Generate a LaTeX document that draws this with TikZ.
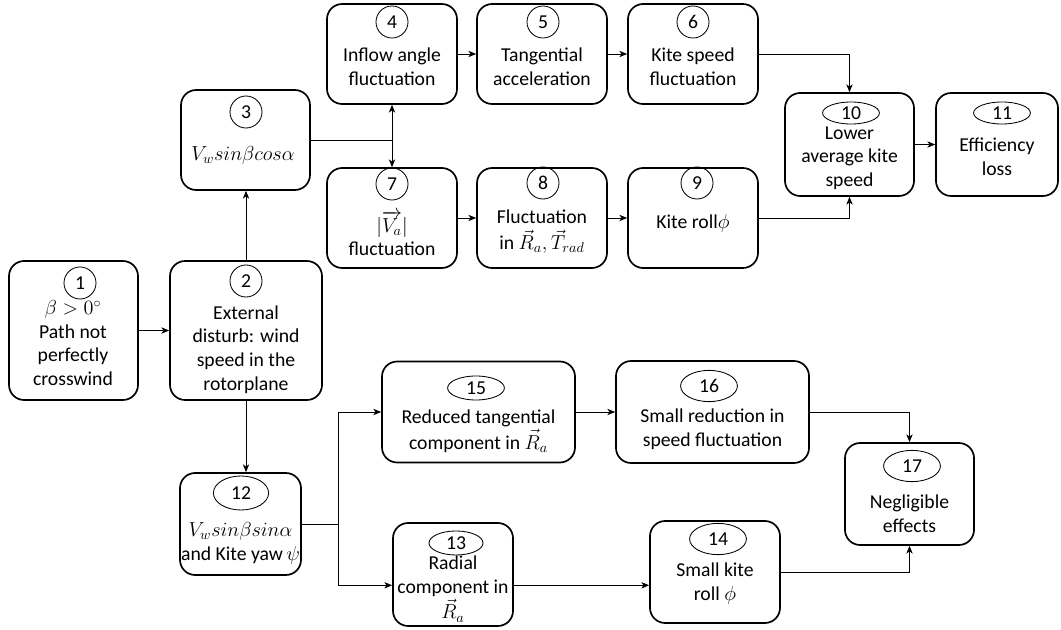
\documentclass[tikz,border=0pt]{standalone}
\usepackage{amsmath}
\usepackage{fontspec}
\setmainfont{Carlito}
\usetikzlibrary{arrows.meta,shapes.geometric}

\tikzset{
  box/.style={draw, line width=1.2pt, rounded corners=0.38cm, minimum width=3.25cm, minimum height=2.5cm},
  txt/.style={align=center, inner sep=0pt, font=\fontsize{14}{16.8}\selectfont},
  num/.style={draw, circle, line width=0.6pt, minimum size=0.8cm, inner sep=0pt, font=\fontsize{14}{16.8}\selectfont},
  numo/.style={draw, ellipse, line width=0.6pt, minimum width=1.42cm, minimum height=0.78cm, inner sep=0pt, font=\fontsize{14}{16.8}\selectfont},
  arr/.style={-{Stealth[length=5.5pt,width=4.5pt,inset=1.5pt]}, line width=0.6pt},
  lin/.style={line width=0.6pt}
}

\begin{document}
\begin{tikzpicture}[x=0.025cm,y=-0.025cm]
	\useasboundingbox (0,0) rectangle (1061,630);

	\node[box, minimum width=3.225cm, minimum height=3.475cm] (b1) at (73.5,330.5) {};
	\node[num] (n1) at (80,283) {1};
	\node[txt] (t1) at (73,343) {$\beta > 0^\circ$\\Path not\\perfectly\\crosswind};

	\node[box, minimum width=3.8cm, minimum height=3.475cm] (b2) at (246,330.5) {};
	\node[num] (n2) at (246,281) {2};
	\node[txt] (t2) at (246,349.5) {External\\disturb: wind\\speed in the\\rotorplane};

	\node[box, minimum width=3.225cm] (b3) at (245.5,140) {};
	\node[num] (n3) at (246,112) {3};
	\node[txt] (t3) at (243,155) {$V_w sin\beta cos\alpha$};

	\node[box] (b4) at (392,54) {};
	\node[num] (n4) at (392,22) {4};
	\node[txt] (t4) at (392,67) {Inflow angle\\fluctuation};

	\node[box] (b5) at (542,54) {};
	\node[num] (n5) at (543,22) {5};
	\node[txt] (t5) at (542,67) {Tangential\\acceleration};

	\node[box] (b6) at (693,54) {};
	\node[num] (n6) at (693,22) {6};
	\node[txt] (t6) at (693,67) {Kite speed\\fluctuation};

	\node[box] (b7) at (392,218) {};
	\node[num] (n7) at (392,184) {7};
	\node[txt] (t7) at (392,233.5) {$|\overrightarrow{V_a}|$\\fluctuation};

	\node[box] (b8) at (542,218) {};
	\node[num] (n8) at (543,183) {8};
	\node[txt] (t8) at (542,231.5) {Fluctuation\\[1.5pt]in $\vec{R}_a, \vec{T}_{rad}$};

	\node[box] (b9) at (693,218) {};
	\node[num] (n9) at (697,183) {9};
	\node[txt] (t9) at (693,223) {Kite roll$\phi$};

	\node[box, minimum width=3.225cm, minimum height=2.575cm] (b10) at (849.5,144.5) {};
	\node[numo, minimum height=0.55cm] (n10) at (851,113) {10};
	\node[txt] (t10) at (849.5,158) {Lower\\average kite\\speed};

	\node[box, minimum width=3.05cm, minimum height=2.575cm] (b11) at (997,144.5) {};
	\node[numo, minimum height=0.55cm] (n11) at (1002,113) {11};
	\node[txt] (t11) at (997,157) {Efficiency\\loss};

	\node[box, minimum width=3.025cm, minimum height=2.55cm] (b12) at (240.5,524) {};
	\node[numo, minimum width=1.38cm, minimum height=0.85cm] (n12) at (241,493) {12};
	\node[txt] (t12) at (240.5,543.5) {$V_w sin\beta sin\alpha$\\and Kite yaw\,$\psi$};

	\node[box, minimum width=3cm, minimum height=2.575cm] (b13) at (453,574.5) {};
	\node[numo, minimum width=1.35cm, minimum height=0.6cm] (n13) at (456,543) {13};
	\node[txt] (t13) at (453,589) {Radial\\component in\\[1.5pt]$\vec{R}_a$};

	\node[box, minimum height=2.55cm] (b14) at (715,572) {};
	\node[numo] (n14) at (718,539) {14};
	\node[txt] (t14) at (715,583.5) {Small kite\\roll $\phi$};

	\node[box, minimum width=4.825cm, minimum height=2.525cm] (b15) at (478.5,412) {};
	\node[numo, minimum height=0.6cm] (n15) at (476,388) {15};
	\node[txt] (t15) at (478.5,431) {Reduced tangential\\[1.5pt]component in $\vec{R}_a$};

	\node[box, minimum width=4.825cm, minimum height=2.55cm] (b16) at (712.5,412) {};
	\node[numo] (n16) at (709,386) {16};
	\node[txt] (t16) at (712.5,429.5) {Small reduction in\\speed fluctuation};

	\node[box, minimum width=3.225cm, minimum height=2.55cm] (b17) at (909.5,494) {};
	\node[numo] (n17) at (912,466) {17};
	\node[txt] (t17) at (909.5,513.5) {Negligible\\effects};

	\coordinate (j3) at (b4.south |- b3.east);
	\coordinate (j12) at ([xshift=0.925cm]b12.east);

	\draw[arr] (b1.east) -- (b2.west);
	\draw[arr] (b2.north) -- (b2.north |- b3.south);
	\draw[lin] (b3.east) -- (j3);
	\draw[arr] (j3) -- (b4.south);
	\draw[arr] (j3) -- (b7.north);
	\draw[arr] (b4.east) -- (b5.west);
	\draw[arr] (b5.east) -- (b6.west);
	\draw[arr] (b6.east) -| (b10.north);
	\draw[arr] (b7.east) -- (b8.west);
	\draw[arr] (b8.east) -- (b9.west);
	\draw[arr] (b9.east) -| (b10.south);
	\draw[arr] (b10.east) -- (b11.west);
	\draw[arr] (b2.south) -- (b2.south |- b12.north);
	\draw[lin] (b12.east) -- (j12);
	\draw[arr] (j12) |- (b15.west);
	\draw[arr] (j12) |- ([yshift=-0.27cm]b13.west);
	\draw[arr] (b15.east) -- (b16.west);
	\draw[arr] (b16.east) -| (b17.north);
	\draw[arr] ([yshift=-0.27cm]b13.east) -- ([yshift=-0.27cm]b13.east -| b14.west);
	\draw[arr] (b14.east) -| (b17.south);
\end{tikzpicture}
\end{document}
